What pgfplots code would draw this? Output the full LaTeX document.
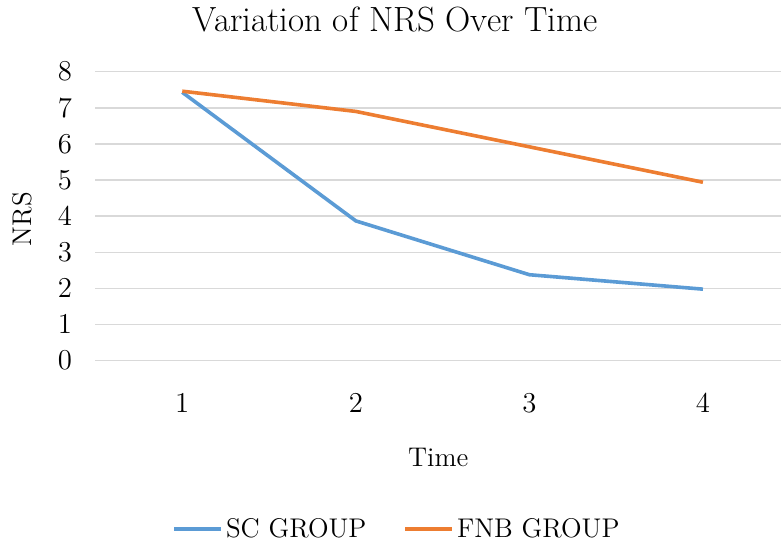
\documentclass[border=0pt]{standalone}
\usepackage{pgfplots}
\pgfplotsset{compat=1.18}
\definecolor{scblue}{HTML}{5B9BD5}
\definecolor{fnborange}{HTML}{ED7D31}
\definecolor{gridgray}{HTML}{D9D9D9}
\newcommand{\tickfont}{\fontsize{13.5}{15}\selectfont}
\begin{document}
\begin{tikzpicture}
\begin{axis}[
  name=ax,
  clip=false,
  scale only axis,
  width=342.75pt, height=144.5pt,
  xmin=0.5, xmax=4.45,
  ymin=0, ymax=8,
  xtick={1,2,3,4},
  ytick={0,1,2,3,4,5,6,7,8},
  axis line style={draw=none},
  tick style={draw=none},
  ymajorgrids,
  major grid style={draw=gridgray, line width=0.7pt},
  ticklabel style={font=\tickfont},
  xticklabel style={yshift=-13.3pt},
  yticklabel style={xshift=-8.2pt},
  legend columns=2,
  legend style={draw=none, fill=none, font=\tickfont,
    at={(axis description cs:0.4405,-0.583)}, anchor=center,
    inner sep=0pt,
    nodes={inner xsep=1.5pt},
    /tikz/every even column/.append style={column sep=17pt}},
  legend cell align=left,
  legend image code/.code={\draw[#1, line width=1.8pt] (0pt,0pt) -- (23.5pt,0pt);},
]
\addplot[scblue, line width=1.8pt] coordinates {(1,7.43) (2,3.87) (3,2.38) (4,1.98)};
\addlegendentry{SC GROUP}
\addplot[fnborange, line width=1.8pt] coordinates {(1,7.46) (2,6.90) (3,5.92) (4,4.94)};
\addlegendentry{FNB GROUP}
\node[anchor=base, font=\fontsize{17.5}{20}\selectfont] at ([yshift=19.85pt]axis description cs:0.437,1) {Variation of NRS Over Time};
\node[anchor=base, font=\tickfont] at ([yshift=-53.15pt]axis description cs:0.5,0) {Time};
\node[rotate=90, anchor=center, font=\tickfont] at (axis description cs:-0.1072,0.49) {NRS};
\end{axis}
\pgfresetboundingbox
\path ([xshift=-47.75pt,yshift=-90.65pt]ax.south west) rectangle ([yshift=35.85pt]ax.north east);
\end{tikzpicture}
\end{document}
